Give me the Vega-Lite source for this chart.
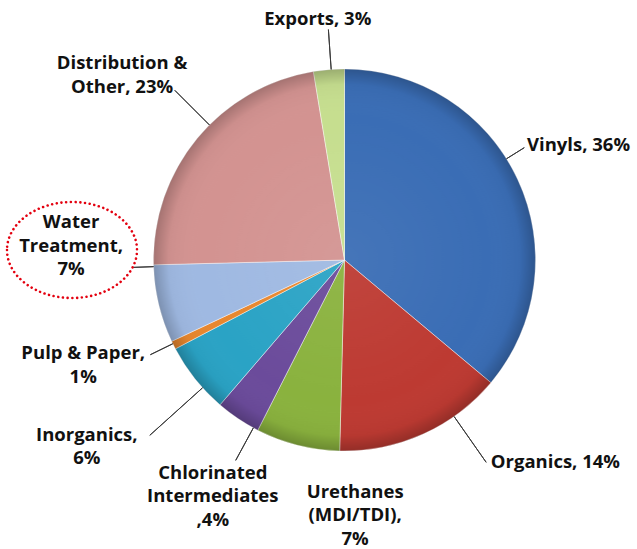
{
  "$schema": "https://vega.github.io/schema/vega-lite/v6.json",
  "width": 585,
  "height": 520,
  "autosize": {"type": "none"},
  "padding": {"left": 52, "top": 0, "right": 0, "bottom": 29},
  "background": "white",
  "config": {"view": {"stroke": null}},
  "data": {
    "values": [
      {"n": 1, "cat": "Vinyls", "value": 36.1, "label": "Vinyls, 36%"},
      {"n": 2, "cat": "Organics", "value": 14.3, "label": "Organics, 14%"},
      {"n": 3, "cat": "Urethanes (MDI/TDI)", "value": 7.1, "label": "Urethanes\n(MDI/TDI),\n7%"},
      {"n": 4, "cat": "Chlorinated Intermediates", "value": 3.8, "label": "Chlorinated\nIntermediates\n,4%"},
      {"n": 5, "cat": "Inorganics", "value": 6.0, "label": "Inorganics,\n6%"},
      {"n": 6, "cat": "Pulp & Paper", "value": 0.7, "label": "Pulp & Paper,\n1%"},
      {"n": 7, "cat": "Water Treatment", "value": 6.6, "label": "Water\nTreatment,\n7%"},
      {"n": 8, "cat": "Distribution & Other", "value": 22.8, "label": "Distribution &\nOther, 23%"},
      {"n": 9, "cat": "Exports", "value": 2.6, "label": "Exports, 3%"}
    ]
  },
  "resolve": {"scale": {"theta": "independent"}},
  "layer": [
    {
      "mark": {"type": "arc", "radius": 191, "stroke": "#ffffff", "strokeWidth": 0.8, "strokeOpacity": 0.55},
      "encoding": {
        "theta": {"field": "value", "type": "quantitative", "stack": true},
        "order": {"field": "n", "type": "quantitative"},
        "color": {
          "field": "cat", "type": "nominal", "legend": null,
          "scale": {
            "domain": ["Vinyls", "Organics", "Urethanes (MDI/TDI)", "Chlorinated Intermediates", "Inorganics", "Pulp & Paper", "Water Treatment", "Distribution & Other", "Exports"],
            "range": ["#3a6db5", "#bd3a32", "#8ab23e", "#6b4b9b", "#2aa3c5", "#e8872e", "#9fb9e2", "#d39391", "#c6de8f"]
          }
        }
      }
    },
    {
      "data": {"values": [{"value": 1}]},
      "mark": {
        "type": "arc", "radius": 191,
        "fill": {
          "gradient": "radial", "x1": 0.5, "y1": 0.5, "r1": 0, "x2": 0.5, "y2": 0.5, "r2": 0.5,
          "stops": [
            {"offset": 0, "color": "rgba(255,255,255,0.06)"},
            {"offset": 0.75, "color": "rgba(255,255,255,0)"},
            {"offset": 0.92, "color": "rgba(0,0,0,0.03)"},
            {"offset": 1, "color": "rgba(0,0,0,0.22)"}
          ]
        }
      },
      "encoding": {"theta": {"field": "value", "type": "quantitative", "stack": true}}
    },
    {
      "mark": {"type": "arc", "radius": 212, "radius2": 191, "padAngle": 3.1, "thetaOffset": -0.1218, "theta2Offset": -0.1218, "filled": false, "stroke": "#3a3a3a", "strokeWidth": 1},
      "encoding": {"theta": {"field": "value", "type": "quantitative", "stack": true}, "order": {"field": "n", "type": "quantitative"}, "opacity": {"condition": {"test": "datum.n === 1", "value": 1}, "value": 0}}
    },
    {
      "mark": {"type": "arc", "radius": 247, "radius2": 191, "padAngle": 3.1, "thetaOffset": -0.1868, "theta2Offset": -0.1868, "filled": false, "stroke": "#3a3a3a", "strokeWidth": 1},
      "encoding": {"theta": {"field": "value", "type": "quantitative", "stack": true}, "order": {"field": "n", "type": "quantitative"}, "opacity": {"condition": {"test": "datum.n === 2", "value": 1}, "value": 0}}
    },
    {
      "mark": {"type": "arc", "radius": 228, "radius2": 191, "padAngle": 3.1, "thetaOffset": -0.0932, "theta2Offset": -0.0932, "filled": false, "stroke": "#3a3a3a", "strokeWidth": 1},
      "encoding": {"theta": {"field": "value", "type": "quantitative", "stack": true}, "order": {"field": "n", "type": "quantitative"}, "opacity": {"condition": {"test": "datum.n === 4", "value": 1}, "value": 0}}
    },
    {
      "mark": {"type": "arc", "radius": 262, "radius2": 191, "padAngle": 3.1, "thetaOffset": -0.0607, "theta2Offset": -0.0607, "filled": false, "stroke": "#3a3a3a", "strokeWidth": 1},
      "encoding": {"theta": {"field": "value", "type": "quantitative", "stack": true}, "order": {"field": "n", "type": "quantitative"}, "opacity": {"condition": {"test": "datum.n === 5", "value": 1}, "value": 0}}
    },
    {
      "mark": {"type": "arc", "radius": 216, "radius2": 191, "padAngle": 3.1, "thetaOffset": 0.008, "theta2Offset": 0.008, "filled": false, "stroke": "#3a3a3a", "strokeWidth": 1},
      "encoding": {"theta": {"field": "value", "type": "quantitative", "stack": true}, "order": {"field": "n", "type": "quantitative"}, "opacity": {"condition": {"test": "datum.n === 6", "value": 1}, "value": 0}}
    },
    {
      "mark": {"type": "arc", "radius": 212, "radius2": 191, "padAngle": 3.1, "thetaOffset": 0.1976, "theta2Offset": 0.1976, "filled": false, "stroke": "#3a3a3a", "strokeWidth": 1},
      "encoding": {"theta": {"field": "value", "type": "quantitative", "stack": true}, "order": {"field": "n", "type": "quantitative"}, "opacity": {"condition": {"test": "datum.n === 7", "value": 1}, "value": 0}}
    },
    {
      "mark": {"type": "arc", "radius": 240, "radius2": 191, "padAngle": 3.1, "thetaOffset": 0.0942, "theta2Offset": 0.0942, "filled": false, "stroke": "#3a3a3a", "strokeWidth": 1},
      "encoding": {"theta": {"field": "value", "type": "quantitative", "stack": true}, "order": {"field": "n", "type": "quantitative"}, "opacity": {"condition": {"test": "datum.n === 8", "value": 1}, "value": 0}}
    },
    {
      "mark": {"type": "arc", "radius": 231, "radius2": 191, "padAngle": 3.1, "thetaOffset": 0.0119, "theta2Offset": 0.0119, "filled": false, "stroke": "#3a3a3a", "strokeWidth": 1},
      "encoding": {"theta": {"field": "value", "type": "quantitative", "stack": true}, "order": {"field": "n", "type": "quantitative"}, "opacity": {"condition": {"test": "datum.n === 9", "value": 1}, "value": 0}}
    },
    {
      "mark": {"type": "text", "radius": 272, "dx": -64, "align": "left", "baseline": "middle", "font": "Open Sans", "fontSize": 18.5, "fontWeight": "bold", "lineHeight": 23.5, "lineBreak": "\n", "color": "#111111"},
      "encoding": {"theta": {"field": "value", "type": "quantitative", "stack": true}, "order": {"field": "n", "type": "quantitative"}, "text": {"condition": {"test": "datum.n === 1", "field": "label"}, "value": ""}}
    },
    {
      "mark": {"type": "text", "radius": 222, "dx": 55, "align": "left", "baseline": "middle", "font": "Open Sans", "fontSize": 18.5, "fontWeight": "bold", "lineHeight": 23.5, "lineBreak": "\n", "color": "#111111"},
      "encoding": {"theta": {"field": "value", "type": "quantitative", "stack": true}, "order": {"field": "n", "type": "quantitative"}, "text": {"condition": {"test": "datum.n === 2", "field": "label"}, "value": ""}}
    },
    {
      "mark": {"type": "text", "radius": 266, "dx": 76, "dy": -26, "align": "center", "baseline": "middle", "font": "Open Sans", "fontSize": 18.5, "fontWeight": "bold", "lineHeight": 23.5, "lineBreak": "\n", "color": "#111111"},
      "encoding": {"theta": {"field": "value", "type": "quantitative", "stack": true}, "order": {"field": "n", "type": "quantitative"}, "text": {"condition": {"test": "datum.n === 3", "field": "label"}, "value": ""}}
    },
    {
      "mark": {"type": "text", "radius": 285, "dx": 27, "dy": -24, "align": "center", "baseline": "middle", "font": "Open Sans", "fontSize": 18.5, "fontWeight": "bold", "lineHeight": 23.5, "lineBreak": "\n", "color": "#111111"},
      "encoding": {"theta": {"field": "value", "type": "quantitative", "stack": true}, "order": {"field": "n", "type": "quantitative"}, "text": {"condition": {"test": "datum.n === 4", "field": "label"}, "value": ""}}
    },
    {
      "mark": {"type": "text", "radius": 300, "dx": -23, "dy": -12, "align": "center", "baseline": "middle", "font": "Open Sans", "fontSize": 18.5, "fontWeight": "bold", "lineHeight": 23.5, "lineBreak": "\n", "color": "#111111"},
      "encoding": {"theta": {"field": "value", "type": "quantitative", "stack": true}, "order": {"field": "n", "type": "quantitative"}, "text": {"condition": {"test": "datum.n === 5", "field": "label"}, "value": ""}}
    },
    {
      "mark": {"type": "text", "radius": 236, "dx": -50, "dy": -12, "align": "center", "baseline": "middle", "font": "Open Sans", "fontSize": 18.5, "fontWeight": "bold", "lineHeight": 23.5, "lineBreak": "\n", "color": "#111111"},
      "encoding": {"theta": {"field": "value", "type": "quantitative", "stack": true}, "order": {"field": "n", "type": "quantitative"}, "text": {"condition": {"test": "datum.n === 6", "field": "label"}, "value": ""}}
    },
    {
      "mark": {"type": "text", "radius": 281, "dx": 0, "dy": -102.5, "align": "center", "baseline": "middle", "font": "Open Sans", "fontSize": 18.5, "fontWeight": "bold", "lineHeight": 23.5, "lineBreak": "\n", "color": "#111111"},
      "encoding": {"theta": {"field": "value", "type": "quantitative", "stack": true}, "order": {"field": "n", "type": "quantitative"}, "text": {"condition": {"test": "datum.n === 7", "field": "label"}, "value": ""}}
    },
    {
      "mark": {"type": "text", "radius": 290, "dx": 1, "dy": -12, "align": "center", "baseline": "middle", "font": "Open Sans", "fontSize": 18.5, "fontWeight": "bold", "lineHeight": 23.5, "lineBreak": "\n", "color": "#111111"},
      "encoding": {"theta": {"field": "value", "type": "quantitative", "stack": true}, "order": {"field": "n", "type": "quantitative"}, "text": {"condition": {"test": "datum.n === 8", "field": "label"}, "value": ""}}
    },
    {
      "mark": {"type": "text", "radius": 242, "dx": -7, "align": "center", "baseline": "middle", "font": "Open Sans", "fontSize": 18.5, "fontWeight": "bold", "lineHeight": 23.5, "lineBreak": "\n", "color": "#111111"},
      "encoding": {"theta": {"field": "value", "type": "quantitative", "stack": true}, "order": {"field": "n", "type": "quantitative"}, "text": {"condition": {"test": "datum.n === 9", "field": "label"}, "value": ""}}
    },
    {
      "data": {"values": [{"note": "Water Treatment highlight"}]},
      "mark": {"type": "point", "shape": "M -337.5 -10 A 65 48 0 1 0 -207.5 -10 A 65 48 0 1 0 -337.5 -10 Z", "size": 4, "filled": false, "opacity": 1, "stroke": "#e3000f", "strokeWidth": 2.6, "strokeDash": [0.01, 4.7], "strokeCap": "round"},
      "encoding": {}
    }
  ]
}
